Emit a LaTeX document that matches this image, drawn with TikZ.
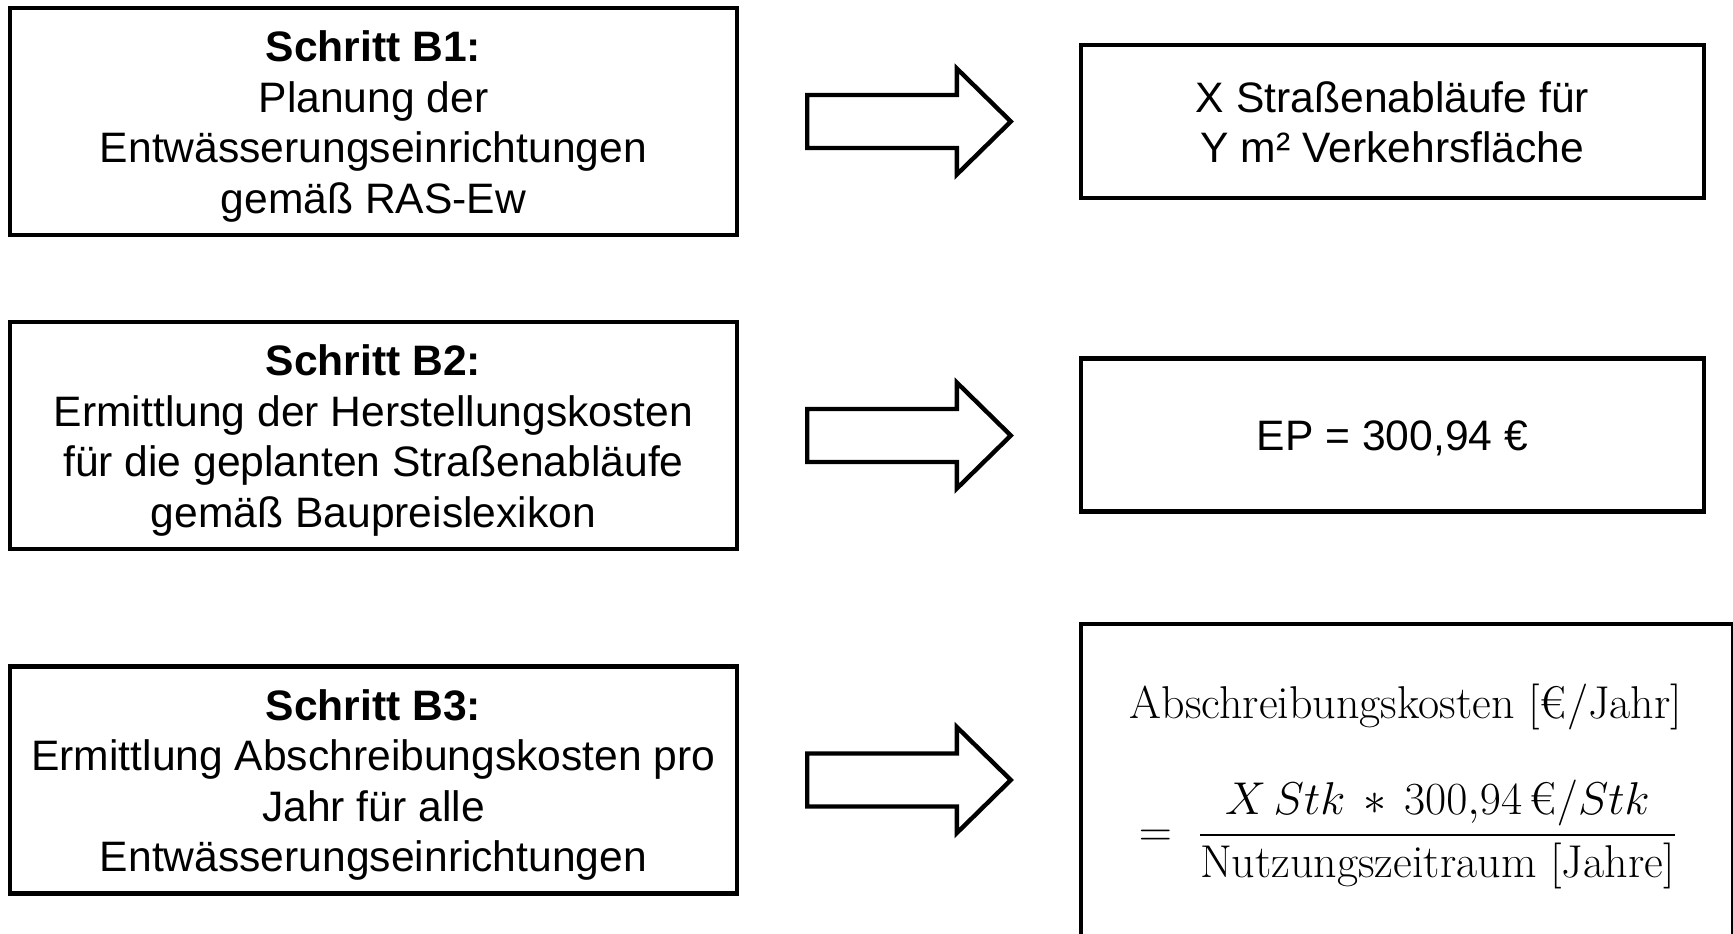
\documentclass[tikz,border=0pt]{standalone}
\usepackage{fix-cm}
\usepackage{fontspec}
\setsansfont{Liberation Sans}
\usepackage{amsmath}
\usetikzlibrary{calc}

\begin{document}
\begin{tikzpicture}[x=0.5pt, y=-0.5pt,
    stepbox/.style={draw, line width=2.2pt, rectangle, align=center, inner sep=0pt,
        font=\sffamily\fontsize{21.3}{25.25}\selectfont,
        minimum width=363.5pt, minimum height=113.5pt},
    resultbox/.style={stepbox, minimum width=311.5pt, minimum height=76.5pt},
    formula/.style={font=\fontsize{23}{27}\selectfont, inner sep=0pt},
    blockarrow/.style={draw, line width=2.2pt, line join=miter, fill=white}]

        % Picture frame (1733 x 933 px), content outside is cut
        \fill[white] (0,0) rectangle (1733,933);
        \useasboundingbox (0,0) rectangle (1733,933);
        \clip (0,0) rectangle (1733,933);

        % Struts: full line height above the first and below the last line
        \newcommand{\topgap}{\rule{0pt}{20.4pt}}
        \newcommand{\botgap}{\rule[-4.5pt]{0pt}{0pt}}

        % Block arrow between a step box and its result box
        \newcommand{\drawBlockArrow}[2]{
            \coordinate (#1tail) at ($(#1.east)+(68,0)$);
            \coordinate (#1tip)  at ($(#2.west |- #1.east)+(-68,0)$);
            \draw[blockarrow] ($(#1tail)+(0,-26.5)$) -- ($(#1tip)+(-54,-26.5)$)
                -- ($(#1tip)+(-54,-53)$) -- (#1tip) -- ($(#1tip)+(-54,53)$)
                -- ($(#1tip)+(-54,26.5)$) -- ($(#1tail)+(0,26.5)$) -- cycle;
        }

        % Steps (left column)
        \node[stepbox] (b1) at (373.5,121.5) {\topgap\textbf{Schritt B1:}\\Planung der\\Entwässerungseinrichtungen\\gemäß RAS-Ew\botgap};
        \node[stepbox] (b2) at (373.5,435.5) {\topgap\textbf{Schritt B2:}\\Ermittlung der Herstellungskosten\\für die geplanten Straßenabläufe\\gemäß Baupreislexikon\botgap};
        \node[stepbox] (b3) at (373.5,780) {\topgap\textbf{Schritt B3:}\\Ermittlung Abschreibungskosten pro\\Jahr für alle\\Entwässerungseinrichtungen\botgap};

        % Results (right column)
        \node[resultbox] (r1) at (1392.5,121.5) {\topgap X Straßenabläufe für\\Y m² Verkehrsfläche\botgap};
        \node[resultbox] (r2) at (1392.5,435) {\topgap EP = 300,94 €\botgap};
        \node[resultbox, minimum width=326pt, minimum height=160pt] (r3) at (1407,784) {};

        % Formula inside r3
        \node[formula, anchor=base] (kosten) at (1406,718) {Abschreibungskosten [€/Jahr]};
        \node[formula, anchor=base] (bruch) at (1408,846) {$\displaystyle = \;\frac{X\,Stk \,*\, 300{,}94\,\text{€}/Stk}{\text{Nutzungszeitraum [Jahre]}}$};

        % Arrows
        \drawBlockArrow{b1}{r1}
        \drawBlockArrow{b2}{r2}
        \drawBlockArrow{b3}{r3}

\end{tikzpicture}
\end{document}
